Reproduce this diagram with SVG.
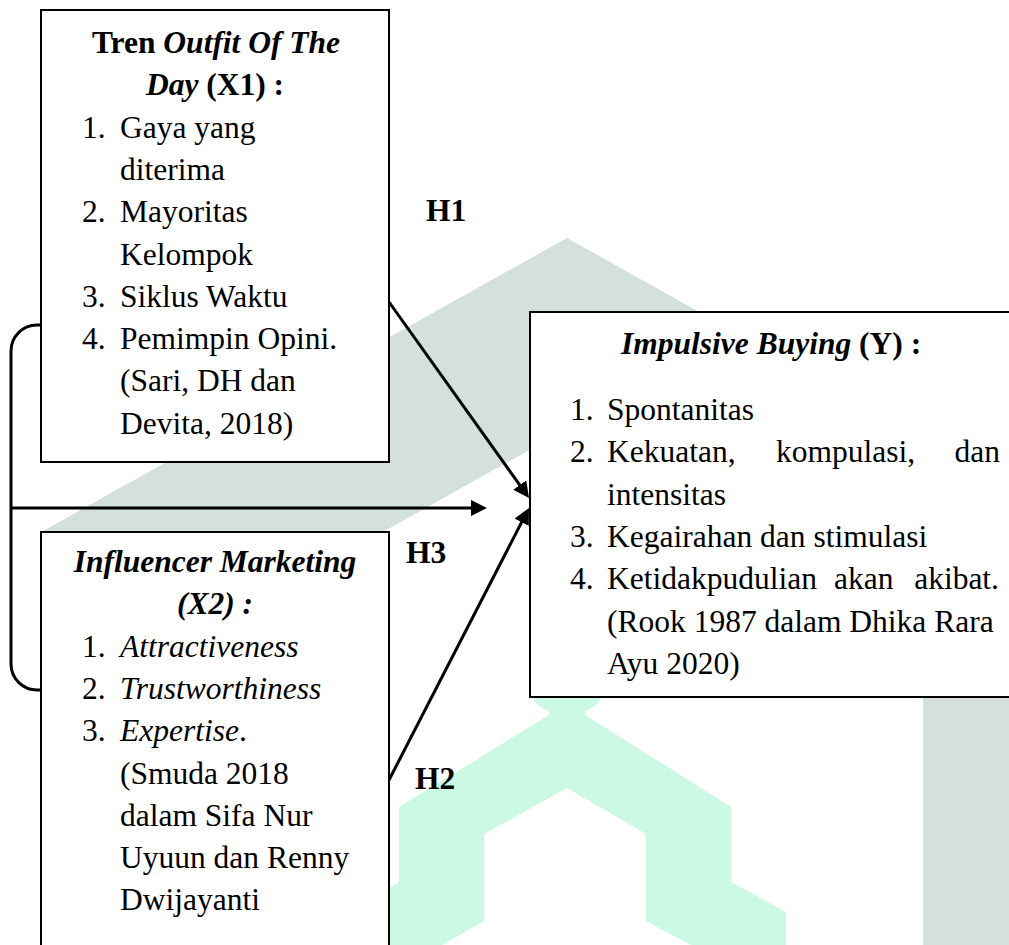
<svg xmlns="http://www.w3.org/2000/svg" width="1009" height="945" viewBox="0 0 1009 945">
<style>
.t{font-family:"Liberation Serif","Times New Roman",serif;font-size:31.5px;fill:#000}
.b{font-weight:bold}
.i{font-style:italic}
.box{fill:#fff;stroke:#000;stroke-width:2}
.con{fill:none;stroke:#000;stroke-width:3}
</style>
<defs>
<marker id="ah" markerUnits="userSpaceOnUse" markerWidth="16" markerHeight="16" viewBox="0 0 16 16" refX="6" refY="8" orient="auto">
<path d="M0,0 L16,8 L0,16 z" fill="#000"/>
</marker>
</defs>
<rect width="1009" height="945" fill="#fff"/>
<g id="watermark">
<path d="M567,238 L1091,531 L1091,945 L923,945 L923,628 L567,429 L211,628 L211,945 L43,945 L43,531 Z" fill="#d3e0dc"/>
<path d="M530,690 L604,690 Q600,707 585,711 L585,715 L731,807 L731,882 L786,912 L786,945 L691,945 L646,921 L646,834 L567,788 L484,834 L484,921 L442,945 L360,945 L360,905 L399,882 L399,807 L549,715 L549,711 Q534,707 530,690 Z" fill="#ccf9e4"/>
</g>
<g id="connectors">
<path class="con" d="M41,325 H37 A26,26 0 0 0 11,351 V664 A26,26 0 0 0 37,690 H41"/>
<line class="con" x1="11" y1="508" x2="477" y2="508" marker-end="url(#ah)"/>
<line class="con" x1="389" y1="302" x2="523.2" y2="489.9" marker-end="url(#ah)"/>
<line class="con" x1="389" y1="780" x2="524.4" y2="516.9" marker-end="url(#ah)"/>
<text class="t b" x="426" y="221">H1</text>
<text class="t b" x="406" y="563">H3</text>
<text class="t b" x="415" y="789">H2</text>
</g>
<g id="node-x1">
<rect class="box" x="41" y="10" width="348" height="452"/>
<text class="t b" x="216" y="53" text-anchor="middle">Tren <tspan class="i">Outfit Of The</tspan></text>
<text class="t b" x="215" y="95.3" text-anchor="middle"><tspan class="i">Day</tspan> (X1) :</text>
<text class="t" x="82" y="137.6">1.</text><text class="t" x="120" y="137.6">Gaya yang</text>
<text class="t" x="120" y="179.9">diterima</text>
<text class="t" x="82" y="222.2">2.</text><text class="t" x="120" y="222.2">Mayoritas</text>
<text class="t" x="120" y="264.5">Kelompok</text>
<text class="t" x="82" y="306.8">3.</text><text class="t" x="120" y="306.8">Siklus Waktu</text>
<text class="t" x="82" y="349.1">4.</text><text class="t" x="120" y="349.1">Pemimpin Opini.</text>
<text class="t" x="120" y="391.4">(Sari, DH dan</text>
<text class="t" x="120" y="433.7">Devita, 2018)</text>
</g>
<g id="node-x2">
<rect class="box" x="41" y="532" width="348" height="430"/>
<text class="t b i" x="215" y="572" text-anchor="middle">Influencer Marketing</text>
<text class="t b i" x="215" y="614.3" text-anchor="middle">(X2) :</text>
<text class="t" x="82" y="656.6">1.</text><text class="t i" x="120" y="656.6">Attractiveness</text>
<text class="t" x="82" y="698.9">2.</text><text class="t i" x="120" y="698.9">Trustworthiness</text>
<text class="t" x="82" y="741.2">3.</text><text class="t" x="120" y="741.2"><tspan class="i">Expertise</tspan>.</text>
<text class="t" x="120" y="783.5">(Smuda 2018</text>
<text class="t" x="120" y="825.8">dalam Sifa Nur</text>
<text class="t" x="120" y="868.1">Uyuun dan Renny</text>
<text class="t" x="120" y="910.4">Dwijayanti</text>
</g>
<g id="node-y">
<rect class="box" x="530" y="312" width="500" height="385"/>
<text class="t b" x="621" y="354"><tspan class="i">Impulsive Buying</tspan> (Y) :</text>
<text class="t" x="570" y="420">1.</text><text class="t" x="607" y="420">Spontanitas</text>
<text class="t" x="570" y="462.3">2.</text><text class="t" x="607" y="462.3">Kekuatan,</text><text class="t" x="776" y="462.3">kompulasi,</text><text class="t" x="1000" y="462.3" text-anchor="end">dan</text>
<text class="t" x="607" y="504.6">intensitas</text>
<text class="t" x="570" y="546.9">3.</text><text class="t" x="607" y="546.9">Kegairahan dan stimulasi</text>
<text class="t" x="570" y="589.2">4.</text><text class="t" x="607" y="589.2">Ketidakpudulian</text><text class="t" x="834" y="589.2">akan</text><text class="t" x="999" y="589.2" text-anchor="end">akibat.</text>
<text class="t" x="607" y="631.5">(Rook 1987 dalam Dhika Rara</text>
<text class="t" x="607" y="673.8">Ayu 2020)</text>
</g>
</svg>
